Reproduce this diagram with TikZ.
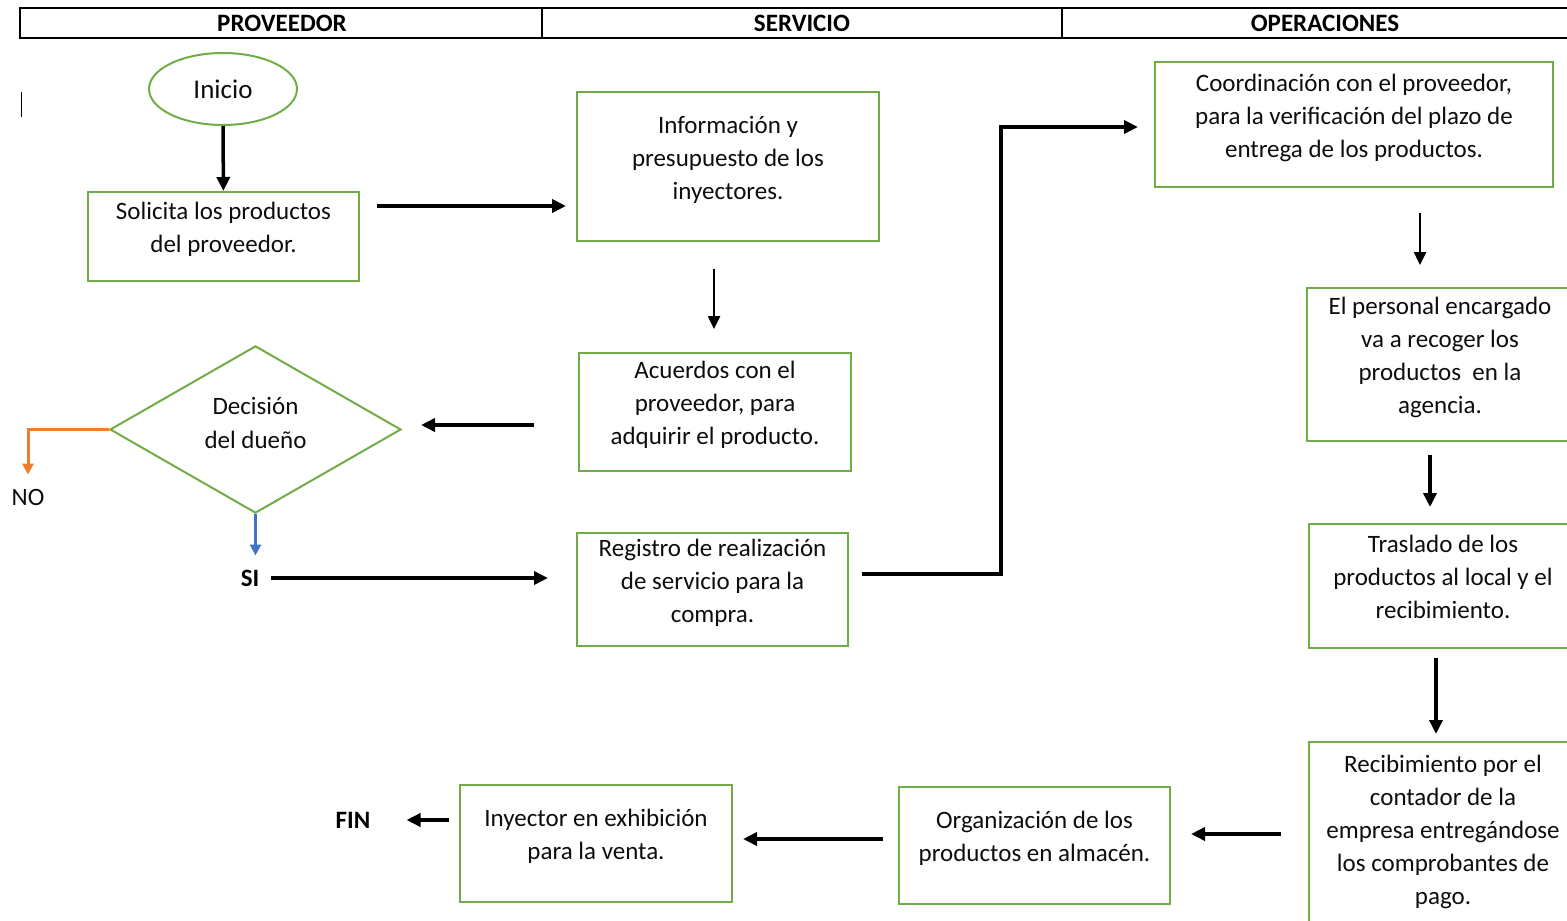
\documentclass[tikz,border=0pt]{standalone}
\usepackage{fontspec}
\setmainfont{Carlito}
\usepackage{tikz}
\usetikzlibrary{arrows.meta,shapes.geometric}
\definecolor{verde}{RGB}{112,173,71}
\definecolor{naranja}{RGB}{237,125,49}
\definecolor{azul}{RGB}{68,114,196}
\tikzstyle{caja}=[rectangle, draw=verde, line width=2pt, align=center, inner sep=0pt, text=black!95, font=\fontsize{25}{33}\selectfont, execute at end node={\rule[-18pt]{0pt}{18pt}}]
\tikzstyle{rombo}=[diamond, draw=verde, line width=2pt, align=center, inner sep=0pt, minimum width=291pt, minimum height=167pt, text=black!95, font=\fontsize{25}{34}\selectfont, execute at end node={\rule[-14pt]{0pt}{14pt}}]
\tikzstyle{elipse}=[ellipse, draw=verde, line width=2pt, inner sep=0pt, minimum width=148pt, minimum height=72pt, text=black!95, font=\fontsize{27}{30}\selectfont]
\tikzstyle{etiq}=[inner sep=0pt, text=black!95, font=\fontsize{25}{30}\selectfont]
\tikzstyle{titulo}=[inner sep=0pt, text=black, font=\fontsize{25}{30}\selectfont\bfseries]
\tikzstyle{flecha}=[-{Triangle[length=14pt,width=13pt]}, line width=3.5pt, black]
\tikzstyle{flechaFina}=[-{Triangle[length=13pt,width=12pt]}, line width=2.5pt, black]
\tikzstyle{flechaNo}=[-{Triangle[length=11pt,width=11pt]}, line width=3pt, naranja]
\tikzstyle{flechaSi}=[-{Triangle[length=11pt,width=11pt]}, line width=3pt, azul]

\begin{document}
\begin{tikzpicture}[x=1pt, y=-1pt]
      \useasboundingbox (0,0) rectangle (1567,921);
      \clip (0,0) rectangle (1567,921);
      % cabecera
      \draw[line width=2pt] (20,8) rectangle (1586,38);
      \draw[line width=2pt] (542,8) -- (542,38);
      \draw[line width=2pt] (1062,8) -- (1062,38);
      \node(hprov) [titulo] at (282,23){PROVEEDOR};
      \node(hserv) [titulo] at (802,23){SERVICIO};
      \node(hoper) [titulo] at (1325,23){OPERACIONES};
      \draw[line width=1.5pt] (21.5,92) -- (21.5,117);
      % nodos
      \node(inicio) [elipse] at (223,89){Inicio};
      \node(sol) [caja, minimum width=271pt, minimum height=89pt] at (223.5,236.5){Solicita los productos\\del proveedor.};
      \node(info) [caja, minimum width=302pt, minimum height=149pt] at (728,166.5){Información y\\presupuesto de los\\inyectores.};
      \node(acu) [caja, minimum width=272pt, minimum height=118pt] at (715,412){Acuerdos con el\\proveedor, para\\adquirir el producto.};
      \node(dec) [rombo] at (255.5,429.5){Decisión\\del dueño};
      \node(no) [etiq] at (28,497){NO};
      \node(si) [titulo] at (250,578){SI};
      \node(reg) [caja, minimum width=271pt, minimum height=113pt] at (712.5,589.5){Registro de realización\\de servicio para la\\compra.};
      \node(coord) [caja, minimum width=398pt, minimum height=125pt] at (1354,124.5){Coordinación con el proveedor,\\para la verificación del plazo de\\entrega de los productos.};
      \node(pers) [caja, minimum width=266pt, minimum height=153pt] at (1440,364.5){El personal encargado\\va a recoger los\\productos \ en la\\agencia.};
      \node(tras) [caja, minimum width=268pt, minimum height=124pt] at (1443,586){Traslado de los\\productos al local y el\\recibimiento.};
      \node(rec) [caja, minimum width=268pt, minimum height=193pt] at (1443,838.5){Recibimiento por el\\contador de la\\empresa entregándose\\los comprobantes de\\pago.};
      \node(org) [caja, minimum width=271pt, minimum height=117pt] at (1034.5,845.5){Organización de los\\productos en almacén.};
      \node(iny) [caja, minimum width=272pt, minimum height=117pt] at (596,843.5){Inyector en exhibición\\para la venta.};
      \node(fin) [titulo] at (353,820){FIN};
      % conectores
      \draw[flecha] (inicio) -- (sol);
      \draw[flecha] ([shift={(17,-30.5)}]sol.east) -- ([shift={(-10,39.5)}]info.west);
      \draw[flechaFina] ([shift={(-1,27)}]acu.north |- info.south) -- ([shift={(-1,-23)}]acu.north);
      \draw[flecha] ([shift={(-44,13)}]acu.west) -- ([shift={(19,-4.5)}]dec.east);
      \draw[flechaNo, shorten >=14pt] (dec.west) -| (no.north);
      \draw[flechaSi, shorten >=14pt] (dec.south) -- (dec.south |- si.north);
      \draw[flecha, shorten <=12pt, shorten >=28pt] (si.east) -- (si.east -| reg.west);
      \draw[flecha] ([shift={(13,-15.5)}]reg.east) -- ++(139,0) |- ([shift={(-16,2.5)}]coord.west);
      \draw[flechaFina] ([shift={(66,25)}]coord.south) -- ([shift={(-20,-22)}]pers.north);
      \draw[flecha] ([shift={(-10,13)}]pers.south) -- ([shift={(-10,-16)}]tras.north -| pers.south);
      \draw[flecha] ([shift={(-7,9)}]tras.south) -- ([shift={(-7,-7)}]rec.north);
      \draw[flecha] ([shift={(-27,-4.5)}]rec.west) -- ([shift={(20,-11.5)}]org.east);
      \draw[flecha] ([shift={(-15,-6.5)}]org.west) -- ([shift={(10,-4.5)}]iny.east);
      \draw[flecha] ([shift={(-10,-23.5)}]iny.west) -- ([shift={(36,0)}]fin.east);
    \end{tikzpicture}
\end{document}
